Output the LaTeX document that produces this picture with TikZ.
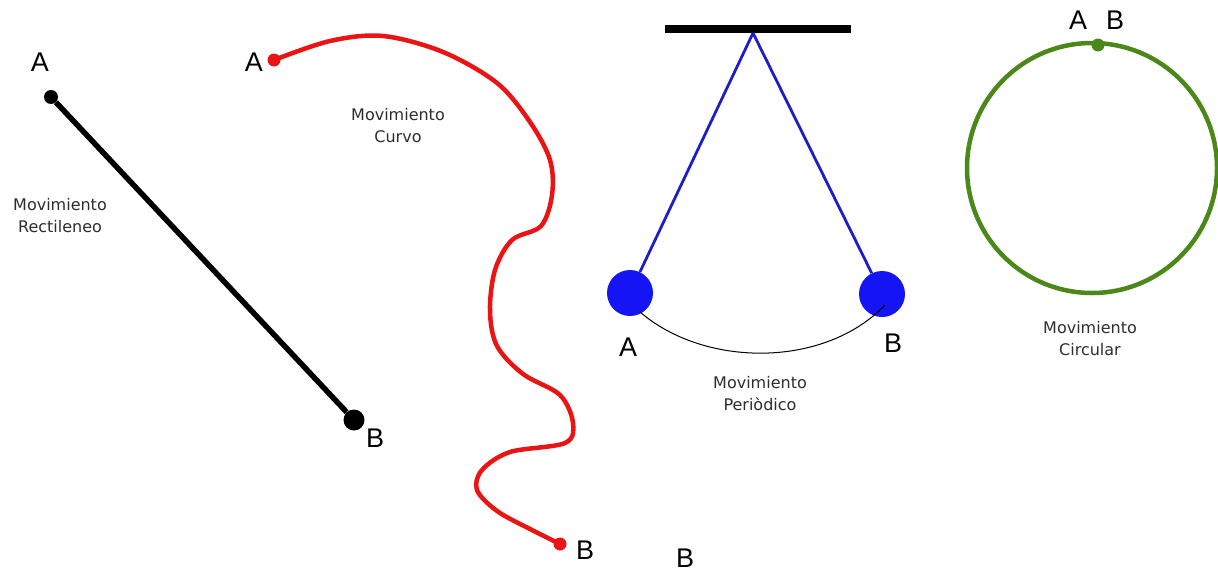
\documentclass[tikz,border=0pt]{standalone}
\usepackage{fontspec}
\setmainfont{Liberation Sans}
\newfontfamily\captionfont{DejaVu Sans}
\usetikzlibrary{positioning, calc}
\definecolor{lineblack}{RGB}{0, 0, 0}
\definecolor{curvered}{RGB}{235, 20, 20}
\definecolor{bobblue}{RGB}{20, 20, 245}
\definecolor{stringblue}{RGB}{30, 30, 200}
\definecolor{orbitgreen}{RGB}{75, 135, 25}
\definecolor{captiongray}{RGB}{45, 45, 45}
\tikzset{
  enddot/.style={circle, fill, inner sep=0pt, minimum size=#1},
  pointlabel/.style={font=\fontsize{27}{27}\selectfont, inner sep=0pt},
  motionlabel/.style={font=\captionfont\fontsize{16}{22}\selectfont,
                      text=captiongray, align=center, inner sep=0pt},
}

\begin{document}
\begin{tikzpicture}[x=1pt, y=-1pt]
  \useasboundingbox (0,0) rectangle (1218,573);

  \node[enddot=14pt, lineblack] (la) at (51,97) {};
  \node[enddot=21pt, lineblack] (lb) at (354,420) {};
  \draw[lineblack, line width=5.5pt] (la) -- (lb);
  \node[pointlabel] (la-txt) at (40,62) {A};
  \node[pointlabel] (lb-txt) at (375,438) {B};
  \node[motionlabel] (rect-txt) at (60,216) {Movimiento\\Rectileneo};

  \node[enddot=13pt, curvered] (ca) at (274,60) {};
  \node[enddot=13pt, curvered] (cb) at (560,544) {};
  \draw[curvered, line width=4.5pt, line cap=round]
    plot[smooth, tension=0.55] coordinates {(ca) (330,41) (383,36) (443,52)
      (497,83) (530,122) (550,160) (552,195) (541,226) (512,240) (495,270)
      (490,311) (497,346) (523,374) (560,395) (573,423) (565,443) (510,452)
      (482,470) (477,490) (497,511) (530,529) (cb)};
  \node[pointlabel] (ca-txt) at (254,62) {A};
  \node[pointlabel] (cb-txt) at (585,550) {B};
  \node[motionlabel] (curve-txt) at (398,126) {Movimiento\\Curvo};

  \node[fill=black, minimum width=186pt, minimum height=8pt, inner sep=0pt] (bar) at (758,29) {};
  \coordinate (pivot) at (753,33);
  \node[enddot=46pt, bobblue] (ba) at (630,293) {};
  \node[enddot=46pt, bobblue] (bb) at (882,294) {};
  \foreach \b in {ba,bb}
    \draw[stringblue, line width=2.8pt] (pivot) -- (\b);
  \draw[black, line width=1pt] ($(ba)+(10,19)$) .. controls (705,368) and (825,368) .. ($(bb)+(3,11)$);
  \node[pointlabel] (ba-txt) at (628,347) {A};
  \node[pointlabel] (bb-txt) at (893,343) {B};
  \node[motionlabel] (pend-txt) at (760,394) {Movimiento\\Periòdico};
  \node[pointlabel] (extra-txt) at (685,558) {B};

  \node[circle, draw=orbitgreen, line width=4.5pt, minimum size=250pt, inner sep=0pt] (orbit) at (1092,168) {};
  \node[enddot=13pt, orbitgreen] (oab) at (1098,45) {};
  \node[pointlabel] (oa-txt) at (1078,20) {A};
  \node[pointlabel] (ob-txt) at (1115,20) {B};
  \node[motionlabel] (orbit-txt) at (1090,339) {Movimiento\\Circular};
\end{tikzpicture}
\end{document}
